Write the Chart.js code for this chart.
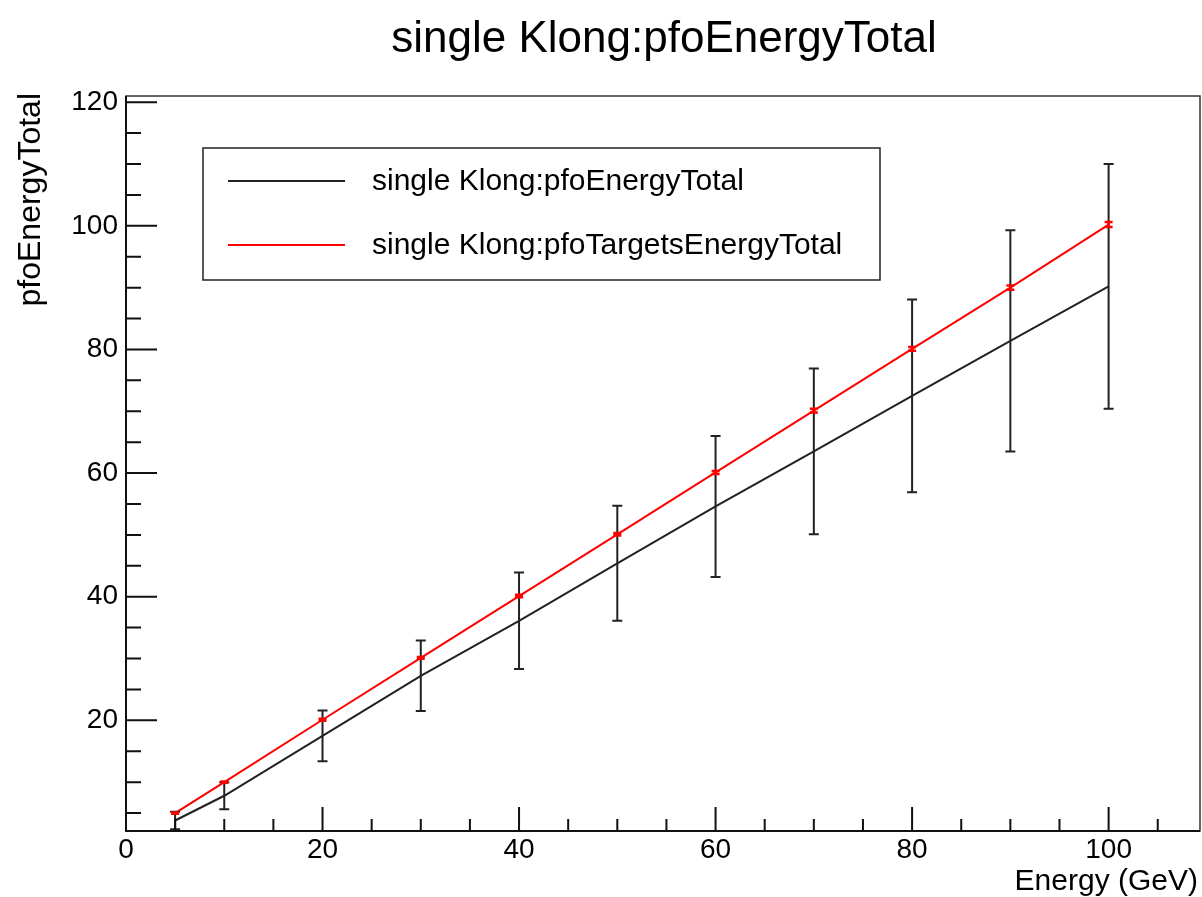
<!DOCTYPE html>
<html>
<head>
<meta charset="utf-8">
<script src="https://cdn.jsdelivr.net/npm/chart.js@4.4.1/dist/chart.umd.min.js"></script>
<style>
  html, body { margin: 0; padding: 0; background: #fff; }
  #plot { display: block; }
</style>
</head>
<body>
<canvas id="plot" width="1202" height="897"></canvas>
<script>
// values
const energies = [5, 10, 20, 30, 40, 50, 60, 70, 80, 90, 100];
const pfoEnergyTotal = [3.8, 7.8, 17.5, 27.2, 36.1, 45.4, 54.6, 63.5, 72.5, 81.4, 90.2];
const pfoEnergyTotalErr = [1.4, 2.2, 4.1, 5.7, 7.8, 9.3, 11.4, 13.4, 15.6, 17.9, 19.8];
const pfoTargetsEnergyTotal = [5.0, 10.0, 20.1, 30.1, 40.1, 50.1, 60.1, 70.1, 80.1, 90.0, 100.2];
const pfoTargetsEnergyTotalErr = [0.1, 0.1, 0.15, 0.15, 0.2, 0.2, 0.25, 0.3, 0.3, 0.35, 0.4];
const xTickLabels = [0, 20, 40, 60, 80, 100];
const yTickLabels = [20, 40, 60, 80, 100, 120];
const seriesNames = ["single Klong:pfoEnergyTotal", "single Klong:pfoTargetsEnergyTotal"];

const FONT = "'Liberation Sans', Arial, Helvetica, sans-serif";

const toPoints = (ys) => energies.map((x, i) => ({ x: x, y: ys[i] }));

// ROOT style drawing: error bars, inward ticks, frame, labels, legend
const rootStyle = {
    id: 'rootStyle',
    afterDatasetsDraw(chart) {
        const ctx = chart.ctx;
        const area = chart.chartArea;
        const xs = chart.scales.x, ys = chart.scales.y;
        ctx.save();
        ctx.beginPath();
        ctx.rect(area.left, area.top, area.right - area.left, area.bottom - area.top + 2);
        ctx.clip();
        const bars = [
            { vals: pfoEnergyTotal, errs: pfoEnergyTotalErr, color: '#222', cap: 5, width: 2 },
            { vals: pfoTargetsEnergyTotal, errs: pfoTargetsEnergyTotalErr, color: '#ff0000', cap: 4, width: 2.5 },
        ];
        bars.forEach(b => {
            ctx.strokeStyle = b.color;
            ctx.lineWidth = b.width;
            energies.forEach((e, i) => {
                const px = xs.getPixelForValue(e);
                const top = ys.getPixelForValue(b.vals[i] + b.errs[i]);
                const bot = ys.getPixelForValue(b.vals[i] - b.errs[i]);
                ctx.beginPath();
                ctx.moveTo(px, top); ctx.lineTo(px, bot);
                ctx.moveTo(px - b.cap, top); ctx.lineTo(px + b.cap, top);
                ctx.moveTo(px - b.cap, bot); ctx.lineTo(px + b.cap, bot);
                ctx.stroke();
            });
        });
        ctx.restore();
    },
    afterDraw(chart) {
        const ctx = chart.ctx;
        const area = chart.chartArea;
        const xs = chart.scales.x, ys = chart.scales.y;
        ctx.save();

        // frame
        ctx.strokeStyle = '#333';
        ctx.lineWidth = 1.5;
        ctx.strokeRect(area.left, area.top, area.right - area.left, area.bottom - area.top);
        ctx.strokeStyle = '#111';
        ctx.lineWidth = 2;
        ctx.beginPath();
        ctx.moveTo(area.left, area.top); ctx.lineTo(area.left, area.bottom); ctx.lineTo(area.right, area.bottom);
        ctx.stroke();

        // inward ticks
        ctx.lineWidth = 2;
        ctx.beginPath();
        for (let v = 0; v <= xs.max; v += 5) {
            const px = xs.getPixelForValue(v);
            const len = v % 20 === 0 ? 24 : 12;
            ctx.moveTo(px, area.bottom); ctx.lineTo(px, area.bottom - len);
        }
        for (let v = 5; v <= ys.max; v += 5) {
            if (v < ys.min) continue;
            const py = ys.getPixelForValue(v);
            const len = v % 20 === 0 ? 31 : 15;
            ctx.moveTo(area.left, py); ctx.lineTo(area.left + len, py);
        }
        ctx.stroke();

        // tick labels
        ctx.fillStyle = '#000';
        ctx.font = '28px ' + FONT;
        ctx.textAlign = 'center';
        ctx.textBaseline = 'middle';
        xTickLabels.forEach(v => ctx.fillText(String(v), xs.getPixelForValue(v), 850));
        ctx.textAlign = 'right';
        yTickLabels.forEach(v => ctx.fillText(String(v), 118, ys.getPixelForValue(v)));

        // axis titles
        ctx.font = '30px ' + FONT;
        ctx.textAlign = 'right';
        ctx.textBaseline = 'alphabetic';
        ctx.fillText('Energy (GeV)', 1198, 890);
        ctx.save();
        ctx.font = '32px ' + FONT;
        ctx.translate(40, 93);
        ctx.rotate(-Math.PI / 2);
        ctx.fillText('pfoEnergyTotal', 0, 0);
        ctx.restore();

        // title
        ctx.font = '44px ' + FONT;
        ctx.textAlign = 'center';
        ctx.textBaseline = 'alphabetic';
        ctx.fillText('single Klong:pfoEnergyTotal', 664, 52);

        // legend
        ctx.fillStyle = '#fff';
        ctx.fillRect(203, 148, 677, 132);
        ctx.strokeStyle = '#222';
        ctx.lineWidth = 1.5;
        ctx.strokeRect(203, 148, 677, 132);
        const rows = [
            { y: 181, color: '#222', text: seriesNames[0] },
            { y: 245, color: '#ff0000', text: seriesNames[1] },
        ];
        ctx.font = '30px ' + FONT;
        ctx.textAlign = 'left';
        ctx.textBaseline = 'middle';
        rows.forEach(r => {
            ctx.strokeStyle = r.color;
            ctx.lineWidth = 2;
            ctx.beginPath();
            ctx.moveTo(228, r.y); ctx.lineTo(345, r.y);
            ctx.stroke();
            ctx.fillStyle = '#000';
            ctx.fillText(r.text, 372, r.y + 1);
        });
        ctx.restore();
    }
};

const ctx = document.getElementById('plot').getContext('2d');
const chart = new Chart(ctx, {
    type: 'line',
    data: {
        datasets: [
            {
                label: seriesNames[0],
                data: toPoints(pfoEnergyTotal),
                borderColor: '#222',
                borderWidth: 2,
                pointRadius: 0,
                tension: 0,
            },
            {
                label: seriesNames[1],
                data: toPoints(pfoTargetsEnergyTotal),
                borderColor: '#ff0000',
                borderWidth: 2,
                pointRadius: 0,
                tension: 0,
            },
        ],
    },
    options: {
        responsive: false,
        animation: false,
        layout: { padding: { left: 126, right: 2, top: 96, bottom: 66 } },
        plugins: { legend: { display: false }, title: { display: false }, tooltip: { enabled: false } },
        scales: {
            x: { type: 'linear', min: 0, max: 109.3, display: false },
            y: { type: 'linear', min: 2.1, max: 121, display: false },
        },
    },
    plugins: [rootStyle],
});
</script>
</body>
</html>
